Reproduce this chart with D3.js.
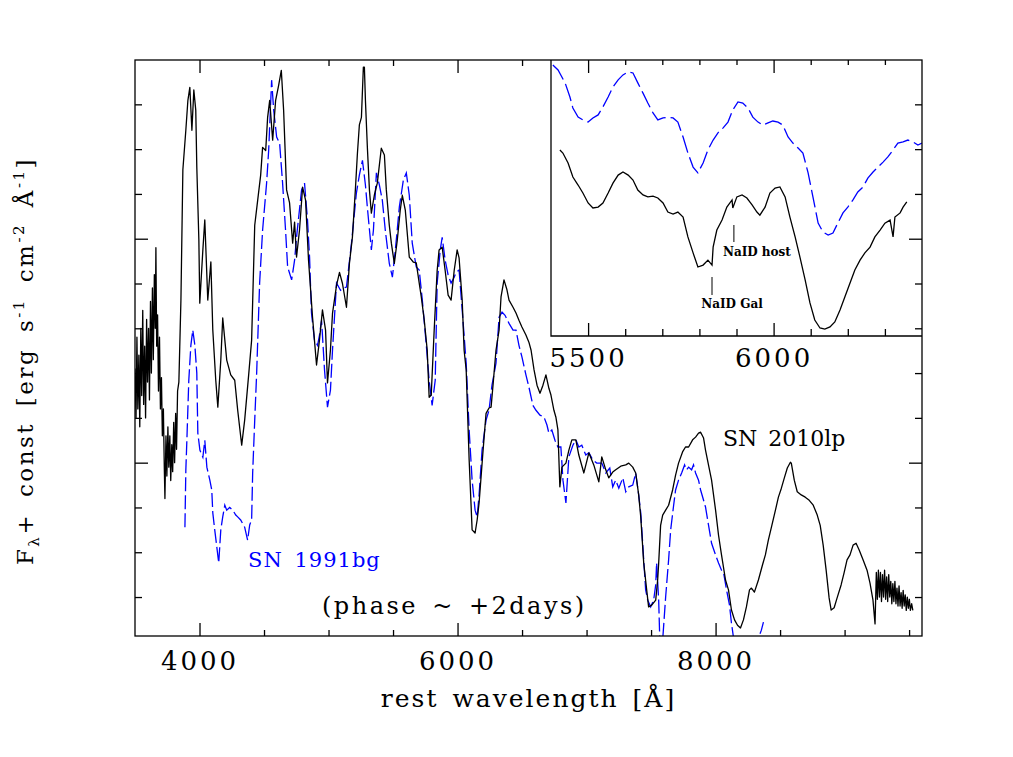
<!DOCTYPE html>
<html>
<head>
<meta charset="utf-8">
<script src="https://cdn.jsdelivr.net/npm/d3@7"></script>
<style>
	html, body { margin: 0; padding: 0; background: white; }
	svg { display: block; }
	text { font-family: 'DejaVu Serif', serif; }
</style>
</head>
<body>
<script>
'use strict';

////////// DATA (flux in arbitrary units) //////////

// SN 2010lp, full spectrum
const lam2010lp = [3500,3508,3515,3522,3530,3537,3545,3552,3560,3567,3575,3582,3590,3597,3605,3612,3620,3627,3635,3642,3650,3657,3662,3668,3675,3682,3690,3697,3705,3712,3720,3727,3732,3740,3747,3755,3762,3770,3777,3785,3792,3800,3807,3815,3822,3830,3840,3856,3871,3894,3910,3925,3941,3956,3971,3979,3995,4002,4026,4041,4064,4088,4103,4126,4142,4165,4180,4211,4242,4273,4296,4327,4350,4381,4404,4428,4451,4474,4489,4513,4528,4544,4567,4590,4613,4634,4652,4675,4698,4722,4737,4752,4775,4799,4822,4845,4876,4907,4930,4953,4977,4992,5015,5031,5062,5085,5108,5139,5162,5185,5208,5224,5239,5255,5270,5278,5286,5301,5317,5332,5355,5378,5409,5433,5448,5471,5487,5510,5533,5556,5572,5595,5626,5657,5680,5703,5719,5742,5765,5780,5796,5819,5842,5857,5881,5904,5927,5950,5974,5997,6012,6036,6051,6067,6090,6113,6136,6152,6167,6198,6221,6244,6260,6275,6298,6322,6337,6360,6383,6399,6430,6453,6476,6499,6530,6553,6570,6593,6616,6639,6662,6685,6708,6724,6747,6762,6778,6793,6809,6840,6863,6886,6917,6940,6979,7018,7056,7095,7118,7149,7172,7203,7226,7265,7304,7327,7358,7381,7404,7420,7443,7466,7481,7505,7536,7551,7559,7574,7590,7613,7636,7667,7690,7713,7744,7767,7791,7822,7845,7868,7884,7907,7922,7945,7969,8000,8023,8046,8077,8100,8123,8147,8170,8193,8216,8239,8263,8278,8301,8332,8363,8386,8409,8433,8464,8487,8510,8533,8556,8580,8587,8610,8633,8664,8695,8726,8757,8788,8811,8834,8857,8880,8896,8919,8942,8973,8996,9019,9042,9066,9089,9113,9143,9174,9197,9220,9236,9246,9254,9262,9270,9278,9286,9294,9302,9310,9318,9326,9334,9342,9350,9358,9366,9374,9382,9390,9398,9406,9414,9422,9430,9438,9446,9454,9462,9470,9478,9486,9494,9502,9510,9520,9529];
const flux2010lp = [6.1,5.0,6.8,5.2,6.4,4.8,7.0,5.5,7.4,5.3,6.6,5.0,7.2,5.8,7.0,5.4,7.6,6.0,7.9,6.3,8.2,7.0,8.8,6.6,7.3,5.6,6.8,5.2,5.9,4.6,5.2,3.9,3.2,4.6,3.7,4.8,3.9,4.6,3.6,4.4,3.8,4.9,4.0,5.1,4.3,5.6,5.8,7.63,10.54,11.42,12.09,12.38,11.42,12.32,11.87,10.60,8.97,7.56,8.75,9.42,7.63,8.48,6.96,5.84,5.24,6.29,7.23,6.29,5.96,5.84,5.17,4.39,4.95,5.96,6.74,9.30,9.86,10.42,11.04,10.97,11.71,12.09,11.20,12.09,12.42,12.76,11.87,10.09,9.80,8.90,9.37,8.59,9.19,10.15,9.86,8.52,7.25,6.18,6.74,7.41,6.96,5.78,6.52,7.34,7.96,8.25,8.00,7.47,8.45,9.03,10.09,10.91,11.54,11.71,12.83,12.83,12.09,11.04,10.09,9.57,9.97,10.24,11.02,10.87,10.09,9.30,8.90,8.45,8.97,9.64,9.97,9.64,8.59,8.48,8.46,8.01,7.70,7.18,6.51,5.46,5.51,6.96,8.29,8.75,8.81,8.29,7.74,7.63,8.29,8.75,8.57,7.63,6.51,6.07,4.06,2.50,2.43,2.72,3.10,4.28,5.10,5.22,5.24,5.73,6.51,6.96,7.70,8.08,7.86,7.63,7.47,7.34,7.18,7.03,6.85,6.69,6.51,6.07,5.73,5.55,5.73,5.96,5.66,5.51,5.17,5.02,4.73,3.46,3.90,3.99,4.28,4.51,4.51,4.17,3.77,4.22,3.95,3.57,4.13,3.84,3.66,3.79,3.84,3.92,3.95,3.99,3.90,3.77,3.28,2.79,1.76,1.16,0.78,0.82,0.93,1.38,1.76,2.60,2.83,2.94,3.05,3.39,3.72,3.99,4.24,4.35,4.35,4.51,4.57,4.66,4.68,4.55,4.28,3.95,3.61,2.94,2.38,1.94,1.38,1.16,0.71,0.49,0.37,0.31,0.49,0.78,1.16,1.20,1.11,1.38,1.71,1.94,2.27,2.56,2.94,3.23,3.43,3.66,3.88,4.01,3.99,3.61,3.35,3.28,3.23,3.16,3.05,2.83,2.60,2.16,1.60,0.98,0.71,0.76,0.98,1.27,1.54,1.83,1.94,2.16,2.20,2.05,1.83,1.60,1.31,0.93,0.40,1.55,0.95,1.6,1.0,1.55,0.9,1.5,1.0,1.6,0.95,1.45,0.9,1.5,1.0,1.35,0.85,1.3,0.9,1.35,0.85,1.2,0.8,1.25,0.8,1.1,0.75,1.15,0.8,1.05,0.7,1.0,0.75,0.95,0.7,0.85,0.7];

// SN 1991bg, comparison spectrum
const lam1991bg = [3887,3894,3902,3917,3933,3948,3964,3979,3987,4003,4026,4041,4057,4080,4095,4103,4118,4134,4149,4165,4180,4196,4211,4234,4258,4281,4296,4319,4350,4373,4389,4404,4412,4428,4443,4466,4489,4520,4536,4559,4575,4598,4621,4644,4667,4683,4714,4737,4752,4791,4814,4837,4853,4868,4891,4915,4930,4946,4969,4992,5015,5031,5062,5093,5116,5139,5178,5216,5239,5263,5286,5301,5332,5348,5371,5394,5417,5440,5471,5495,5518,5549,5580,5603,5626,5649,5680,5703,5727,5758,5780,5803,5827,5842,5866,5881,5904,5927,5950,5974,5989,6012,6036,6067,6090,6113,6136,6152,6167,6190,6221,6244,6267,6298,6322,6345,6368,6399,6430,6453,6476,6499,6530,6553,6584,6608,6639,6670,6693,6708,6731,6755,6778,6801,6817,6840,6863,6894,6917,6940,6963,6994,7018,7049,7079,7118,7149,7180,7203,7226,7250,7281,7304,7327,7358,7381,7404,7420,7443,7458,7474,7497,7520,7536,7543,7559,7567,7574,7590,7613,7636,7652,7675,7690,7713,7737,7760,7775,7791,7814,7829,7845,7868,7884,7907,7922,7945,7969,8000,8023,8046,8061,8085,8108,8123,8147,8178,8216,8255,8293,8332,8355,8371];
const flux1991bg = [2.56,3.83,4.50,5.84,6.62,6.96,6.62,6.00,4.66,4.28,4.12,4.50,3.90,3.61,3.39,2.88,2.50,2.12,1.76,2.50,2.79,3.05,2.94,3.00,2.94,2.83,2.79,2.72,2.56,2.27,2.61,2.72,3.77,4.95,6.00,8.01,9.19,10.24,10.97,12.54,11.87,11.27,11.13,10.24,9.19,8.37,8.08,8.52,9.03,10.09,10.24,9.42,8.59,7.34,6.74,6.62,6.85,7.18,6.07,5.24,5.62,6.52,8.01,7.85,7.90,7.92,8.90,10.02,10.42,10.75,10.20,9.70,8.75,9.19,10.47,10.20,9.86,9.19,8.45,8.14,8.75,9.71,10.31,10.47,9.97,8.90,8.37,8.30,7.63,6.62,5.84,5.28,5.84,8.01,8.75,9.03,8.52,8.19,8.01,8.14,8.25,8.30,7.41,6.22,4.73,3.61,2.94,2.79,3.28,4.28,4.95,5.17,5.73,6.22,7.25,7.36,7.29,7.11,6.96,6.96,6.62,6.36,5.96,5.69,5.28,5.17,5.06,5.02,4.84,4.66,4.73,4.50,4.35,4.35,3.61,3.10,4.13,4.39,4.51,4.35,4.39,4.17,4.22,4.06,3.99,3.99,3.77,3.88,3.46,3.61,3.43,3.66,3.35,3.46,3.50,3.77,3.28,2.88,1.83,1.16,0.93,0.78,0.93,1.27,1.76,0.93,0.11,-0.07,0.04,1.00,1.83,2.50,3.05,3.39,3.61,3.77,3.95,3.84,3.90,3.84,3.95,3.77,3.61,3.39,3.16,3.01,2.61,2.20,1.94,1.76,1.60,1.56,1.16,0.82,0.42,-0.07,-0.18,-0.07,0.04,0.11,0.08,0.26,0.44];

// inset: Na I D region
const insetLam2010lp = [5424,5432,5446,5459,5473,5486,5500,5513,5527,5540,5554,5567,5581,5594,5608,5621,5634,5648,5661,5675,5688,5702,5715,5729,5742,5756,5769,5783,5796,5810,5823,5834,5837,5847,5861,5874,5888,5890,5901,5915,5928,5942,5955,5963,5977,5990,6004,6017,6031,6044,6058,6071,6085,6098,6111,6125,6138,6152,6165,6179,6192,6206,6219,6233,6246,6260,6273,6287,6300,6314,6322,6327,6341,6349,6359];
const insetFlux2010lp = [6.74,6.63,6.27,5.76,5.47,5.18,4.82,4.64,4.67,4.82,5.18,5.54,5.83,5.94,5.83,5.65,5.29,5.11,5.04,5.07,5.00,4.82,4.49,4.42,4.49,4.31,3.59,3.01,2.50,2.57,2.75,2.57,3.22,3.84,4.20,4.67,4.93,4.64,5.04,5.11,5.00,4.75,4.49,4.38,4.67,5.18,5.36,5.40,5.04,4.31,3.59,2.86,2.03,1.20,0.58,0.29,0.25,0.33,0.51,0.94,1.41,1.92,2.39,2.75,3.01,3.22,3.59,3.84,4.09,4.20,3.59,4.31,4.46,4.67,4.86];
const insetLam1991bg = [5405,5419,5438,5451,5459,5473,5486,5500,5513,5527,5540,5554,5567,5581,5594,5608,5621,5634,5648,5661,5675,5688,5702,5715,5729,5742,5756,5769,5783,5796,5810,5823,5837,5850,5864,5877,5890,5904,5917,5931,5944,5958,5971,5985,5998,6012,6025,6039,6052,6066,6079,6093,6106,6120,6133,6147,6160,6173,6187,6200,6214,6227,6241,6254,6268,6281,6295,6308,6322,6335,6349,6362,6376,6389,6400];
const insetFlux1991bg = [9.82,9.64,9.17,8.66,8.26,7.93,7.83,7.75,7.90,8.01,8.30,8.66,9.02,9.28,9.46,9.57,9.53,9.17,8.80,8.44,8.08,7.83,7.90,7.93,7.90,7.75,7.21,6.63,6.12,5.91,6.27,6.74,7.10,7.36,7.54,7.75,8.19,8.48,8.44,8.26,7.93,7.75,7.64,7.72,7.79,7.75,7.64,7.21,6.99,6.81,6.63,5.91,5.04,4.09,3.77,3.66,3.73,4.09,4.46,4.67,4.93,5.22,5.40,5.72,5.94,6.12,6.30,6.49,6.74,6.99,7.03,7.10,7.03,6.92,6.99];

// ticks
const mainMajorX = [4000, 6000, 8000];
const mainMinorX = [4500, 5000, 5500, 6500, 7000, 7500, 8500, 9000, 9500];
const mainMajorY = [4, 9];
const mainMinorY = [1, 2, 3, 5, 6, 7, 8, 10, 11, 12];
const insetMajorX = [5500, 6000];
const insetMinorX = [5600, 5700, 5800, 5900, 6100, 6200, 6300];

// Na I D markers in the inset
const nadLabels = ['NaID Gal', 'NaID host'];
const nadLam = [5834, 5893];

////////// LAYOUT //////////
const width = 1013, height = 757;
const frame = { left: 135, right: 922, top: 60, bottom: 636 };
const inset = { left: 551, right: 922, top: 60, bottom: 336 };
const lineW = 1.3;

const svg = d3.select('body').append('svg')
	.attr('width', width)
	.attr('height', height)
	.style('background', 'white');

const x = d3.scaleLinear().domain([3500, 9600]).range([frame.left, frame.right]);
const y = d3.scaleLinear().domain([0.13, 12.99]).range([frame.bottom, frame.top]);
const xi = d3.scaleLinear().domain([5400, 6400]).range([inset.left, inset.right]);
const yi = d3.scaleLinear().domain([0, 10]).range([inset.bottom, inset.top]);

const defs = svg.append('defs');
defs.append('clipPath').attr('id', 'clipMain').append('rect')
	.attr('x', frame.left).attr('y', frame.top)
	.attr('width', frame.right - frame.left).attr('height', frame.bottom - frame.top);
defs.append('clipPath').attr('id', 'clipInset').append('rect')
	.attr('x', inset.left).attr('y', inset.top)
	.attr('width', inset.right - inset.left).attr('height', inset.bottom - inset.top);

const zip = (a, b) => a.map((d, i) => [d, b[i]]);

////////// MAIN SPECTRA //////////
const mainLine = d3.line().x(d => x(d[0])).y(d => y(d[1]));
const mainG = svg.append('g').attr('clip-path', 'url(#clipMain)');

mainG.append('path')
	.datum(zip(lam1991bg, flux1991bg))
	.attr('d', mainLine)
	.attr('fill', 'none')
	.attr('stroke', '#0000ff')
	.attr('stroke-width', lineW)
	.attr('stroke-dasharray', '14,4');

mainG.append('path')
	.datum(zip(lam2010lp, flux2010lp))
	.attr('d', mainLine)
	.attr('fill', 'none')
	.attr('stroke', 'black')
	.attr('stroke-width', lineW)
	.attr('stroke-linejoin', 'round');

////////// MAIN AXES (ticks point inward on all four sides) //////////
const styleAxis = g => {
	g.select('.domain').remove();
	g.selectAll('line').attr('stroke', 'black').attr('stroke-width', lineW);
	g.selectAll('text')
		.style('font-family', "'DejaVu Serif', serif")
		.style('font-size', '26px')
		.style('letter-spacing', '3px')
		.attr('fill', 'black');
};

svg.append('g').attr('transform', `translate(0,${frame.bottom})`)
	.call(d3.axisBottom(x).tickValues(mainMajorX).tickSize(-13).tickPadding(16).tickFormat(d3.format('d')))
	.call(styleAxis);
svg.append('g').attr('transform', `translate(0,${frame.bottom})`)
	.call(d3.axisBottom(x).tickValues(mainMinorX).tickSize(-6).tickFormat(''))
	.call(styleAxis);
svg.append('g').attr('transform', `translate(0,${frame.top})`)
	.call(d3.axisTop(x).tickValues(mainMajorX).tickSize(-13).tickFormat(''))
	.call(styleAxis);
svg.append('g').attr('transform', `translate(0,${frame.top})`)
	.call(d3.axisTop(x).tickValues(mainMinorX).tickSize(-6).tickFormat(''))
	.call(styleAxis);
svg.append('g').attr('transform', `translate(${frame.left},0)`)
	.call(d3.axisLeft(y).tickValues(mainMajorY).tickSize(-13).tickFormat(''))
	.call(styleAxis);
svg.append('g').attr('transform', `translate(${frame.left},0)`)
	.call(d3.axisLeft(y).tickValues(mainMinorY).tickSize(-7).tickFormat(''))
	.call(styleAxis);
svg.append('g').attr('transform', `translate(${frame.right},0)`)
	.call(d3.axisRight(y).tickValues(mainMajorY).tickSize(-13).tickFormat(''))
	.call(styleAxis);
svg.append('g').attr('transform', `translate(${frame.right},0)`)
	.call(d3.axisRight(y).tickValues(mainMinorY).tickSize(-7).tickFormat(''))
	.call(styleAxis);

////////// INSET //////////
svg.append('rect')
	.attr('x', inset.left).attr('y', inset.top)
	.attr('width', inset.right - inset.left).attr('height', inset.bottom - inset.top)
	.attr('fill', 'white');

const insetLine = d3.line().x(d => xi(d[0])).y(d => yi(d[1]));
const insetG = svg.append('g').attr('clip-path', 'url(#clipInset)');

insetG.append('path')
	.datum(zip(insetLam1991bg, insetFlux1991bg))
	.attr('d', insetLine)
	.attr('fill', 'none')
	.attr('stroke', '#0000ff')
	.attr('stroke-width', lineW)
	.attr('stroke-dasharray', '18,5');

insetG.append('path')
	.datum(zip(insetLam2010lp, insetFlux2010lp))
	.attr('d', insetLine)
	.attr('fill', 'none')
	.attr('stroke', 'black')
	.attr('stroke-width', lineW);

svg.append('g').attr('transform', `translate(0,${inset.bottom})`)
	.call(d3.axisBottom(xi).tickValues(insetMajorX).tickSize(-13).tickPadding(13).tickFormat(d3.format('d')))
	.call(styleAxis);
svg.append('g').attr('transform', `translate(0,${inset.bottom})`)
	.call(d3.axisBottom(xi).tickValues(insetMinorX).tickSize(-7).tickFormat(''))
	.call(styleAxis);
svg.append('g').attr('transform', `translate(0,${inset.top})`)
	.call(d3.axisTop(xi).tickValues(insetMajorX).tickSize(-13).tickFormat(''))
	.call(styleAxis);
svg.append('g').attr('transform', `translate(0,${inset.top})`)
	.call(d3.axisTop(xi).tickValues(insetMinorX).tickSize(-5).tickFormat(''))
	.call(styleAxis);
// right-hand ticks of the main frame show through the inset edge
svg.append('g').attr('transform', `translate(${frame.right},0)`)
	.call(d3.axisRight(y).tickValues(mainMajorY.filter(v => y(v) < inset.bottom)).tickSize(-13).tickFormat(''))
	.call(styleAxis);
svg.append('g').attr('transform', `translate(${frame.right},0)`)
	.call(d3.axisRight(y).tickValues(mainMinorY.filter(v => y(v) < inset.bottom)).tickSize(-7).tickFormat(''))
	.call(styleAxis);

// Na I D marks: Gal below the line, host above
const nad = svg.append('g').style('font-size', '12px').style('font-weight', 'bold');
nad.append('line')
	.attr('x1', xi(nadLam[0])).attr('x2', xi(nadLam[0]))
	.attr('y1', 277).attr('y2', 295)
	.attr('stroke', 'black').attr('stroke-width', 1);
nad.append('text')
	.attr('x', xi(nadLam[0]) + 20).attr('y', 308)
	.attr('text-anchor', 'middle')
	.text(nadLabels[0]);
nad.append('line')
	.attr('x1', xi(nadLam[1])).attr('x2', xi(nadLam[1]))
	.attr('y1', 225).attr('y2', 242)
	.attr('stroke', 'black').attr('stroke-width', 1);
nad.append('text')
	.attr('x', xi(nadLam[1]) + 23).attr('y', 256)
	.attr('text-anchor', 'middle')
	.text(nadLabels[1]);

////////// FRAMES //////////
svg.append('rect')
	.attr('x', frame.left).attr('y', frame.top)
	.attr('width', frame.right - frame.left).attr('height', frame.bottom - frame.top)
	.attr('fill', 'none').attr('stroke', 'black').attr('stroke-width', lineW);
svg.append('path')
	.attr('d', `M${inset.left},${inset.top}V${inset.bottom}H${inset.right}`)
	.attr('fill', 'none').attr('stroke', 'black').attr('stroke-width', lineW);

////////// LABELS //////////
svg.append('text')
	.attr('x', (frame.left + frame.right) / 2).attr('y', 707)
	.attr('text-anchor', 'middle')
	.style('font-size', '25px')
	.style('letter-spacing', '2px')
	.style('word-spacing', '4px')
	.text('rest wavelength [Å]');

const yLab = svg.append('text')
	.attr('transform', 'translate(33,361) rotate(-90)')
	.attr('text-anchor', 'middle')
	.style('font-size', '23px')
	.style('letter-spacing', '2.5px')
	.style('word-spacing', '6px');
yLab.append('tspan').text('F');
yLab.append('tspan').attr('dy', 6).style('font-size', '15px').text('λ');
yLab.append('tspan').attr('dy', -6).text('+ const [erg s');
yLab.append('tspan').attr('dy', -9).style('font-size', '15px').text('-1');
yLab.append('tspan').attr('dy', 9).text(' cm');
yLab.append('tspan').attr('dy', -9).style('font-size', '15px').text('-2');
yLab.append('tspan').attr('dy', 9).text(' Å');
yLab.append('tspan').attr('dy', -9).style('font-size', '15px').text('-1');
yLab.append('tspan').attr('dy', 9).text(']');

svg.append('text')
	.attr('x', 723).attr('y', 446)
	.style('font-size', '22px')
	.style('word-spacing', '4px')
	.text('SN 2010lp');

svg.append('text')
	.attr('x', 248).attr('y', 567)
	.style('font-size', '21px')
	.style('letter-spacing', '1px')
	.style('word-spacing', '4px')
	.attr('fill', '#0000ff')
	.text('SN 1991bg');

svg.append('text')
	.attr('x', 322).attr('y', 614)
	.style('font-size', '24px')
	.style('letter-spacing', '2.5px')
	.style('word-spacing', '4px')
	.text('(phase ~ +2days)');
</script>
</body>
</html>
